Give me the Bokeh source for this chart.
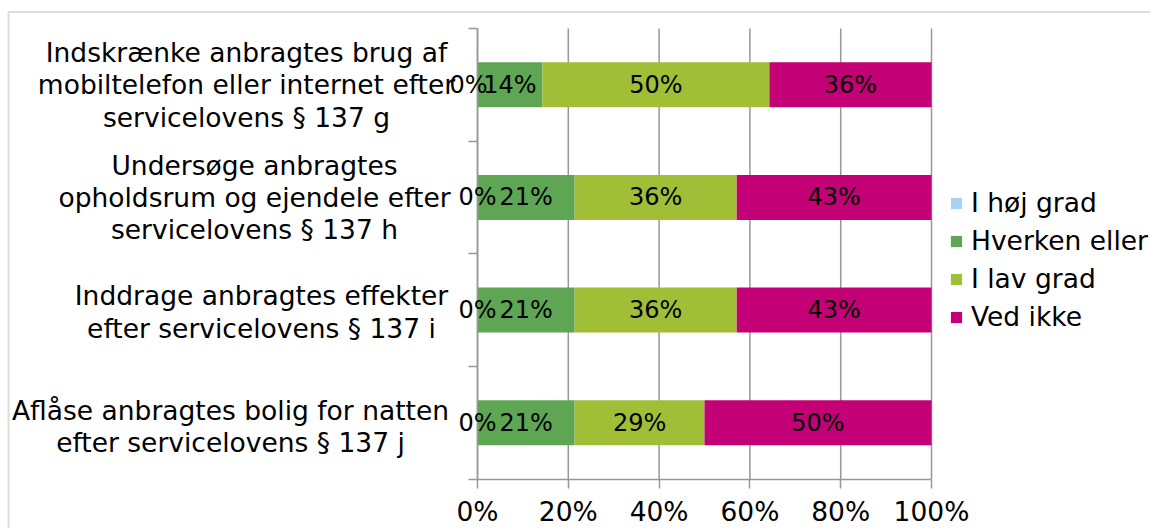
from bokeh.plotting import figure
from bokeh.models import (ColumnDataSource, FixedTicker, LabelSet, Label, Legend,
                          LegendItem, BoxAnnotation, Range1d)
from bokeh.core.properties import value
from bokeh.embed import file_html
from bokeh.resources import INLINE

# ---------------- data ----------------
categories = [
    "Indskrænke anbragtes brug af\nmobiltelefon eller internet efter\nservicelovens § 137 g",
    "Undersøge anbragtes\nopholdsrum og ejendele efter\nservicelovens § 137 h",
    "Inddrage anbragtes effekter\nefter servicelovens § 137 i",
    "Aflåse anbragtes bolig for natten\nefter servicelovens § 137 j",
]
series_names = ["I høj grad", "Hverken eller", "I lav grad", "Ved ikke"]
i_hoej_grad = [0.0, 0.0, 0.0, 0.0]
hverken_eller = [14.3, 21.4, 21.4, 21.4]
i_lav_grad = [50.0, 35.7, 35.7, 28.6]
ved_ikke = [35.7, 42.9, 42.9, 50.0]
x_ticks = [0, 20, 40, 60, 80, 100]
x_tick_labels = ["0%", "20%", "40%", "60%", "80%", "100%"]

# ---------------- style / layout ----------------
colors = ["#A9D3F2", "#5EA653", "#A1BE37", "#C30076"]
FONT = "DejaVu Sans"
GRID = "#979797"
W, H = 1150, 528
PLOT_L, PLOT_R, PLOT_T, PLOT_B = 477, 931, 28, 478.5   # plot area in pixels
cat_label_px = [246, 254, 261, 230]      # pixel x of label centres
cat_label_dy = [0, 0, -2, -4]
zero_label_dx = [-9, 0, 0, 0]

series = [i_hoej_grad, hverken_eller, i_lav_grad, ved_ikke]
n = len(categories)
ypos = [n - 0.5 - i for i in range(n)]

# ranges chosen so that the plot area 0..100 / 0..n sits at PLOT_* while
# the frame covers the whole canvas (so nothing outside it is clipped)
sx = (PLOT_R - PLOT_L) / 100.0
sy = (PLOT_B - PLOT_T) / n
x_range = Range1d(-PLOT_L / sx, 100 + (W - PLOT_R) / sx)
y_range = Range1d(-(H - PLOT_B) / sy, n + PLOT_T / sy)

def px_to_x(px):
    return (px - PLOT_L) / sx

p = figure(width=W, height=H, x_range=x_range, y_range=y_range,
           output_backend="svg", toolbar_location=None,
           min_border_left=0, min_border_right=0, min_border_top=0,
           min_border_bottom=0)
p.outline_line_color = None
p.background_fill_color = "white"
p.border_fill_color = "white"

# grid lines (only across the plot area)
p.xgrid.visible = False
p.ygrid.visible = False
p.segment(x0=x_ticks, y0=[0] * len(x_ticks), x1=x_ticks, y1=[n] * len(x_ticks),
          line_color=GRID, line_width=1.5)

# x axis
xa = p.xaxis[0]
xa.fixed_location = 0
xa.bounds = (0, 100)
xa.ticker = FixedTicker(ticks=x_ticks)
xa.major_label_overrides = {t: l for t, l in zip(x_ticks, x_tick_labels)}
xa.axis_line_color = GRID
xa.axis_line_width = 1.5
xa.major_tick_line_color = GRID
xa.major_tick_line_width = 1.5
xa.major_tick_out = 9
xa.major_tick_in = 0
xa.minor_tick_line_color = None
xa.major_label_standoff = 8
xa.major_label_text_font = FONT
xa.major_label_text_font_size = "26.5px"
xa.major_label_text_color = "black"

# y axis (tick marks at category boundaries only)
ya = p.yaxis[0]
ya.fixed_location = 0
ya.bounds = (0, n)
ya.ticker = FixedTicker(ticks=[], minor_ticks=list(range(n + 1)))
ya.axis_line_color = GRID
ya.axis_line_width = 1.5
ya.major_tick_line_color = None
ya.minor_tick_line_color = GRID
ya.minor_tick_line_width = 1.5
ya.minor_tick_out = 9
ya.minor_tick_in = 0

# bars
items = []
lefts = [0.0] * n
for si, (name, vals, col) in enumerate(zip(series_names, series, colors)):
    rights = [l + v for l, v in zip(lefts, vals)]
    mids = [(l + r) / 2 for l, r in zip(lefts, rights)]
    src = ColumnDataSource(dict(
        y=ypos, left=lefts, right=rights, mid=mids,
        txt=[f"{round(v)}%" for v in vals],
        dx=zero_label_dx if si == 0 else [0] * n,
    ))
    r = p.hbar(y="y", left="left", right="right", height=0.4, source=src,
               fill_color=col, line_color=None)
    items.append(LegendItem(label=name, renderers=[r]))
    p.add_layout(LabelSet(x="mid", y="y", text="txt", x_offset="dx", source=src,
                          text_align="center", text_baseline="middle",
                          text_font=value(FONT), text_font_size="24px",
                          text_color="black"))
    lefts = rights

# category labels
for i, cat in enumerate(categories):
    p.add_layout(Label(x=px_to_x(cat_label_px[i]), y=ypos[i],
                       y_offset=cat_label_dy[i], text=cat,
                       text_align="center", text_baseline="middle",
                       text_font=FONT, text_font_size="26.5px",
                       text_line_height=1.04, text_color="black"))

legend = Legend(items=items, location=(949, 196), orientation="vertical",
                glyph_width=14, glyph_height=14, label_height=31, spacing=7,
                padding=0, margin=0, border_line_color=None,
                background_fill_alpha=0, label_standoff=8,
                label_text_font=FONT, label_text_font_size="26.5px",
                label_text_color="black")
p.add_layout(legend)

# outer chart border (only its top and left edges are inside the picture)
p.add_layout(BoxAnnotation(left=px_to_x(8), right=px_to_x(W + 50),
                           top=n + (PLOT_T - 11.5) / sy,
                           bottom=-(H + 50 - PLOT_B) / sy,
                           fill_alpha=0, line_color="#8c8c8c", line_width=2))

open("out.html", "w").write(file_html(p, INLINE))
